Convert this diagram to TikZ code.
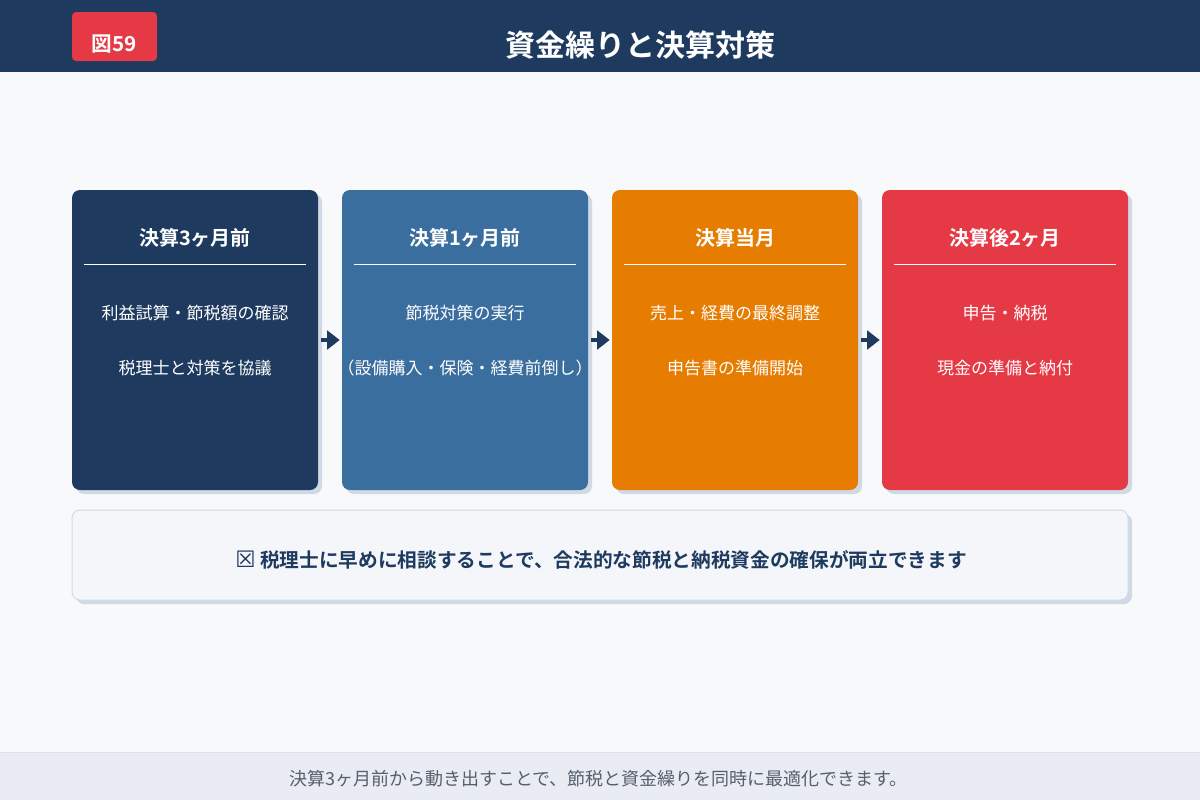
\documentclass[tikz,border=0pt]{standalone}
\usepackage{fontspec}
\setmainfont{Noto Sans CJK JP}[BoldFont={Noto Sans CJK JP Bold}]
\newfontfamily\symfont{DejaVu Sans}
\usepackage{xcolor}
\usetikzlibrary{arrows}
\usetikzlibrary{arrows.meta,calc,shadows}
\definecolor{navy}{HTML}{1E3A5F}
\definecolor{steel}{HTML}{3A6E9E}
\definecolor{amber}{HTML}{E67C00}
\definecolor{signal}{HTML}{E63946}
\definecolor{paper}{HTML}{F8F9FB}
\definecolor{shade}{HTML}{D0D9E6}
\definecolor{notefill}{HTML}{F4F6FA}
\definecolor{footfill}{HTML}{E9EDF3}
\definecolor{footline}{HTML}{DCE2EA}
\definecolor{foottext}{HTML}{555F6D}

\begin{document}
\begin{tikzpicture}[line cap=round,line join=round,>=triangle 45,x=0.75pt,y=-0.75pt,
    stage/.style={rectangle,rounded corners=6pt,minimum width=184.5pt,minimum height=225pt,inner sep=0pt,
        drop shadow={shadow xshift=3pt,shadow yshift=-3pt,fill=shade,opacity=1}},
    stagetitle/.style={text=white,font=\fontsize{15}{17}\selectfont\bfseries,inner sep=0pt},
    stageitem/.style={text=white,font=\fontsize{12.75}{15}\selectfont,inner sep=0pt},
    rule/.style={white,line width=0.75pt,line cap=butt},
    flow/.style={navy,line width=3pt,line cap=butt,-{Triangle[length=9.5pt,width=14pt]},shorten <=2.25pt,shorten >=1.5pt}]
    \useasboundingbox (0,0) rectangle (1200,800);
    \fill [paper] (0,0) rectangle (1200,800);
    % header
    \fill [navy] (0,0) rectangle (1200,72);
    \node [rectangle,rounded corners=3pt,fill=signal,minimum width=63.75pt,minimum height=36.75pt,inner sep=0pt] (badge) at (114.5,36.5) {};
    \node [text=white,font=\fontsize{15.5}{18}\selectfont\bfseries,inner sep=0pt] (badgetext) at (114.5,44) {図59};
    \node [text=white,font=\fontsize{22.5}{25}\selectfont\bfseries,inner sep=0pt] (title) at (640,45) {資金繰りと決算対策};
    % stages
    \node [stage,fill=navy] (b1) at (195,340) {};
    \node [stage,fill=steel] (b2) at (465,340) {};
    \node [stage,fill=amber] (b3) at (735,340) {};
    \node [stage,fill=signal] (b4) at (1005,340) {};
    \node [stagetitle] (t1) at ($(b1.north)+(0,48)$) {決算3ヶ月前};
    \node [stagetitle] (t2) at ($(b2.north)+(0,48)$) {決算1ヶ月前};
    \node [stagetitle] (t3) at ($(b3.north)+(0,48)$) {決算当月};
    \node [stagetitle] (t4) at ($(b4.north)+(0,48)$) {決算後2ヶ月};
    \draw [rule] ($(b1.north west)+(12,75)$) -- ($(b1.north east)+(-12,75)$);
    \draw [rule] ($(b2.north west)+(12,75)$) -- ($(b2.north east)+(-12,75)$);
    \draw [rule] ($(b3.north west)+(12,75)$) -- ($(b3.north east)+(-12,75)$);
    \draw [rule] ($(b4.north west)+(12,75)$) -- ($(b4.north east)+(-12,75)$);
    \node [stageitem] (i11) at ($(b1.north)+(0,123)$) {利益試算・節税額の確認};
    \node [stageitem] (i12) at ($(b1.north)+(0,178)$) {税理士と対策を協議};
    \node [stageitem] (i21) at ($(b2.north)+(0,123)$) {節税対策の実行};
    \node [stageitem] (i22) at ($(b2.north)+(0,178)$) {（設備購入・保険・経費前倒し）};
    \node [stageitem] (i31) at ($(b3.north)+(0,123)$) {売上・経費の最終調整};
    \node [stageitem] (i32) at ($(b3.north)+(0,178)$) {申告書の準備開始};
    \node [stageitem] (i41) at ($(b4.north)+(0,123)$) {申告・納税};
    \node [stageitem] (i42) at ($(b4.north)+(0,178)$) {現金の準備と納付};
    \draw [flow] (b1.east) -- (b2.west);
    \draw [flow] (b2.east) -- (b3.west);
    \draw [flow] (b3.east) -- (b4.west);
    % note
    \node [rectangle,rounded corners=6pt,draw=shade,line width=0.75pt,fill=notefill,minimum width=792pt,minimum height=67.5pt,inner sep=0pt,
        drop shadow={shadow xshift=3pt,shadow yshift=-3pt,fill=shade,opacity=1}] (note) at (600,555) {};
    \node [text=navy,font=\fontsize{14.75}{17}\selectfont\bfseries,inner sep=0pt] (notetext) at (601,560) {{\symfont\mdseries\fontsize{17}{17}\selectfont ☒} 税理士に早めに相談することで、合法的な節税と納税資金の確保が両立できます};
    % footer
    \fill [footfill] (0,752) rectangle (1200,800);
    \draw [footline,line width=0.75pt] (0,752) -- (1200,752);
    \node [text=foottext,font=\fontsize{13.5}{16}\selectfont,inner sep=0pt] (foot) at (598.5,779) {決算3ヶ月前から動き出すことで、節税と資金繰りを同時に最適化できます。};
\end{tikzpicture}
\end{document}
